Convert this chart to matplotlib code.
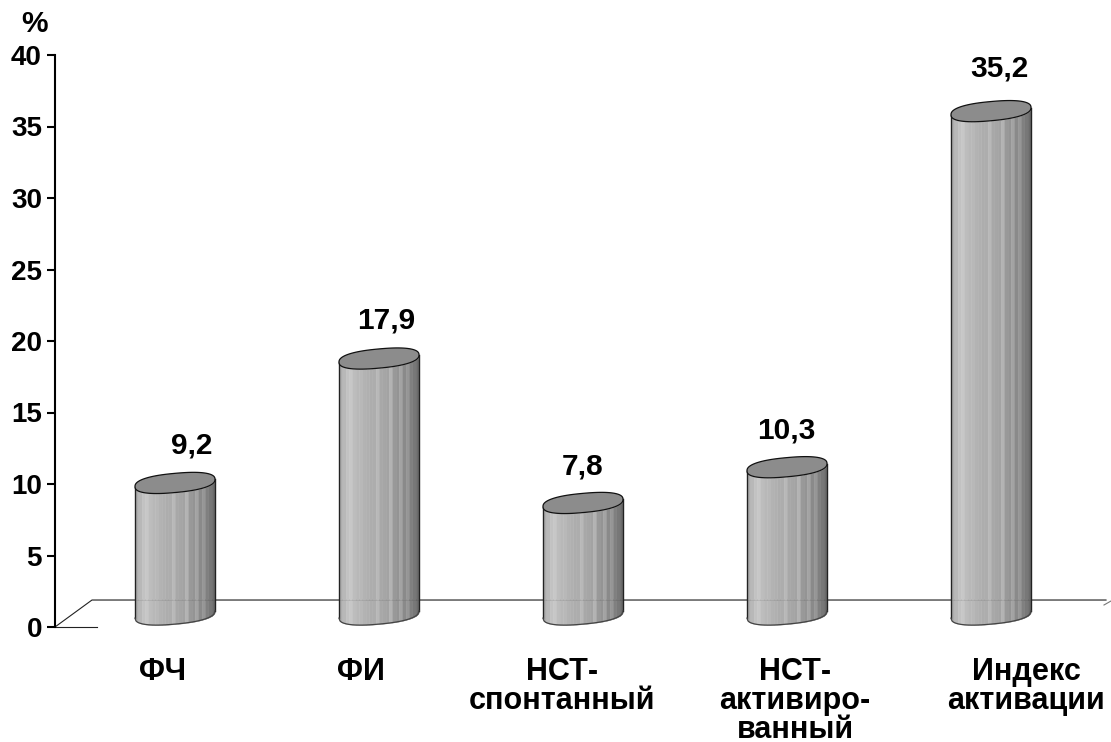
import numpy as np
import matplotlib
matplotlib.use("Agg")
import matplotlib.pyplot as plt

categories = ["ФЧ", "ФИ", "НСТ-\nспонтанный", "НСТ-\nактивиро-\nванный", "Индекс\nактивации"]
values = [9.2, 17.9, 7.8, 10.3, 35.2]
value_labels = ["9,2", "17,9", "7,8", "10,3", "35,2"]
yticks = [0, 5, 10, 15, 20, 25, 30, 35, 40]

W, H = 1111, 742
plt.rcParams['font.family'] = ['Liberation Sans', 'DejaVu Sans']
fig = plt.figure(figsize=(W / 100, H / 100), dpi=100)
y0, y40 = 627.0, 55.0
ax = fig.add_axes([55 / W, 1 - y0 / H, 1 - 55 / W, (y0 - y40) / H])
sx = 204.0  # px per category
sy = (y0 - y40) / 40
ax.set_xlim(-120 / sx, (W - 175) / sx)
ax.set_ylim(0, 40)
ax.patch.set_alpha(0)
for s in ("top", "right", "bottom"):
    ax.spines[s].set_visible(False)
ax.spines["left"].set_linewidth(1.5)
ax.set_xticks([])
ax.set_yticks(yticks)
ax.tick_params(axis="y", length=6, width=1.5, pad=3.4, labelsize=20)
for t in ax.get_yticklabels():
    t.set_fontweight("bold")

def px(dx): return dx / sx
def py(dy): return dy / sy

# floor
floor_y = py(27)
xl = ax.get_xlim()
ax.plot([xl[0], xl[0] + px(37), xl[0] + px(1051)], [0, floor_y, floor_y], color="#222222", lw=0.8, clip_on=False, zorder=1)
ax.plot([xl[0] + px(1049), xl[1]], [py(22), py(26)], color="#777777", lw=0.8, clip_on=False, zorder=1)
ax.plot([xl[0], xl[0] + px(42)], [0, 0], color="#222222", lw=0.8, clip_on=False, zorder=1)

hw = px(40)
a = py(9.6)
b = py(3.6)
lift = py(12.5)
grays = [0.68, 0.72, 0.76, 0.78, 0.74, 0.72, 0.72, 0.70, 0.69, 0.68, 0.68, 0.72, 0.66, 0.65, 0.64,
         0.70, 0.60, 0.58, 0.64, 0.54, 0.59, 0.50, 0.47, 0.42]
edges = np.linspace(-1, 1, len(grays) + 1)

def lower(u): return b * u - a * np.clip(1 - np.abs(u) ** 2.4, 0, 1) ** (1 / 2.4)

for i, v in enumerate(values):
    top = v + lift
    base = lift
    for j, g in enumerate(grays):
        u = np.linspace(edges[j], edges[j + 1], 8)
        ax.fill_between(i + hw * u, base + lower(u), top + lower(u), color=str(g), lw=0.3, zorder=2)
    ax.plot([i - hw] * 2, [base - b, top - b], color="#222222", lw=1, zorder=3)
    ax.plot([i + hw] * 2, [base + b, top + b], color="#222222", lw=1, zorder=3)
    u = np.linspace(-1, 1, 80)
    ax.plot(i + hw * u, base + lower(u), color="#444444", lw=0.9, zorder=3)
    t = np.linspace(0, 2 * np.pi, 160)
    c, s = np.cos(t), np.sin(t)
    ex = np.sign(c) * np.abs(c) ** (2 / 2.4)
    ey = np.sign(s) * np.abs(s) ** (2 / 2.4)
    ax.fill(i + hw * ex, top + b * ex + a * ey, facecolor="#8c8c8c", edgecolor="#111111", lw=0.9, zorder=4)

label_dx = [17, 7, 0, -1, 8]
label_dy = [50, 51, 49, 49, 55]
for i, v in enumerate(values):
    ax.text(i + px(label_dx[i]), v + py(label_dy[i]), value_labels[i], ha="center", va="center",
            fontsize=21.5, fontweight="bold", zorder=5)

ax.plot([xl[0] + px(37), xl[0] + px(1051)], [floor_y, floor_y], color="#222222", lw=0.5, alpha=0.12, zorder=3.5)

text_x = [-13, -18, -21, 8, 35]
for i, c in enumerate(categories):
    ax.text(i + px(text_x[i]), -py(30), c, ha="center", va="top", fontsize=22, fontweight="bold",
            linespacing=0.95, clip_on=False)

ax.text(xl[0] - px(21), 40 + py(31), "%", ha="center", va="center", fontsize=21.5, fontweight="bold", clip_on=False)
fig.savefig("out.png", dpi=100)
